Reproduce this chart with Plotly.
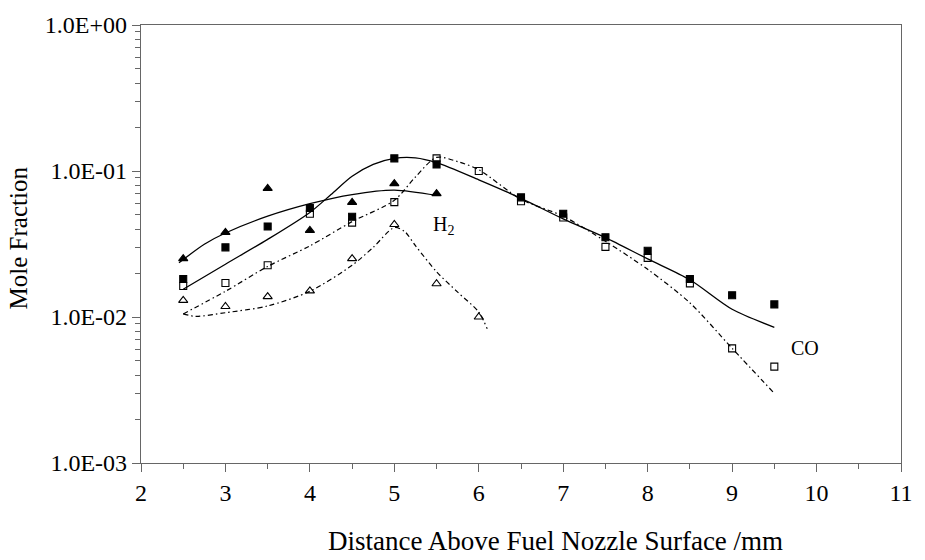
import plotly.graph_objects as go

# ---------------- data ----------------
# measured points
x_pts = [2.5, 3.0, 3.5, 4.0, 4.5, 5.0, 5.5, 6.0, 6.5, 7.0, 7.5, 8.0, 8.5, 9.0, 9.5]
co_filled = [0.0182, 0.030, 0.0417, 0.0558, 0.0486, 0.122, 0.111, None, 0.066, 0.051, 0.0352, 0.0284, 0.0182, 0.0141, 0.0122]
co_open = [0.0163, 0.0171, 0.0226, 0.051, 0.0443, 0.0612, 0.122, 0.100, 0.062, 0.048, 0.0302, 0.0254, 0.0170, 0.0061, 0.00457]

x_h2 = [2.5, 3.0, 3.5, 4.0, 4.5, 5.0, 5.5, 6.0]
h2_filled = [0.0251, 0.038, 0.076, 0.0392, 0.061, 0.082, 0.070, None]
h2_open = [0.013, 0.0118, 0.0138, 0.0151, 0.0251, 0.043, 0.0169, 0.010]

# model curves
x_co_solid = [2.5, 3.0, 3.5, 4.0, 4.25, 4.5, 4.75, 5.0, 5.25, 5.5, 6.0, 6.5, 7.0, 7.5, 8.0, 8.5, 9.0, 9.5]
co_solid = [0.0155, 0.023, 0.034, 0.052, 0.069, 0.092, 0.111, 0.122, 0.123, 0.114, 0.087, 0.065, 0.047, 0.035, 0.025, 0.018, 0.0113, 0.0085]

x_co_dd = [2.5, 3.0, 3.5, 4.0, 4.5, 5.0, 5.25, 5.5, 5.75, 6.0, 6.5, 7.0, 7.5, 8.0, 8.5, 9.0, 9.5]
co_dd = [0.0105, 0.0150, 0.0222, 0.0307, 0.045, 0.063, 0.091, 0.124, 0.116, 0.102, 0.064, 0.049, 0.033, 0.0212, 0.0125, 0.0061, 0.0030]

x_h2_solid = [2.45, 2.75, 3.0, 3.5, 4.0, 4.5, 5.0, 5.5]
h2_solid = [0.0235, 0.0315, 0.0376, 0.049, 0.0597, 0.069, 0.074, 0.068]

x_h2_dd = [2.5, 2.65, 3.0, 3.5, 4.0, 4.5, 4.75, 5.0, 5.12, 5.25, 5.5, 5.75, 6.0, 6.1]
h2_dd = [0.0105, 0.0101, 0.0107, 0.0119, 0.015, 0.0226, 0.030, 0.041, 0.0386, 0.0308, 0.0204, 0.0148, 0.0108, 0.0083]

y_tickvals = [0.001, 0.01, 0.1, 1.0]
y_ticktext = ["1.0E-03", "1.0E-02", "1.0E-01", "1.0E+00"]
x_tickvals = [2, 3, 4, 5, 6, 7, 8, 9, 10, 11]

FONT = "Liberation Serif"
DD = "5px,3px,1.5px,3px"

fig = go.Figure()

def line(x, y, dash, w=1.3):
    fig.add_trace(go.Scatter(x=x, y=y, mode="lines", line=dict(color="black", width=w, dash=dash, shape="spline", smoothing=0.8), hoverinfo="skip", showlegend=False))

line(x_co_solid, co_solid, "solid")
line(x_h2_solid, h2_solid, "solid")
line(x_co_dd, co_dd, DD, 1.2)
line(x_h2_dd, h2_dd, DD, 1.2)

def markers(x, y, symbol, size):
    fig.add_trace(go.Scatter(x=x, y=y, mode="markers", showlegend=False,
                             marker=dict(symbol=symbol, size=size, color="black",
                                         line=dict(color="black", width=1.1))))

markers(x_pts, co_open, "square-open", 7)
markers(x_pts, co_filled, "square", 7)
markers(x_h2, h2_open, "triangle-up-open", 8)
markers(x_h2, h2_filled, "triangle-up", 8)

fig.add_annotation(x=5.43, y=-1.37, xref="x", yref="y", text="H<sub>2</sub>", showarrow=False,
                   font=dict(family=FONT, size=20, color="black"), xanchor="left", yanchor="middle")
fig.add_annotation(x=9.67, y=-2.21, xref="x", yref="y", text="CO", showarrow=False,
                   font=dict(family=FONT, size=20, color="black"), xanchor="left", yanchor="middle")

fig.add_annotation(x=0.546, y=-0.178, xref="paper", yref="paper", text="Distance Above Fuel Nozzle Surface /mm",
                   showarrow=False, font=dict(family=FONT, size=27, color="black"), xanchor="center", yanchor="middle")
fig.add_annotation(x=-0.1617, y=0.513, xref="paper", yref="paper", text="Mole Fraction", textangle=-90,
                   showarrow=False, font=dict(family=FONT, size=25, color="black"), xanchor="center", yanchor="middle")

axis_line = "#666666"
fig.update_layout(
    width=925, height=560,
    margin=dict(l=141, r=17, t=13, b=97),
    paper_bgcolor="white", plot_bgcolor="white",
    font=dict(family=FONT, size=24, color="black"),
    xaxis=dict(range=[2, 11], tickvals=x_tickvals, ticks="outside", ticklen=8, tickcolor=axis_line,
               showline=True, linecolor=axis_line, linewidth=1.3, mirror=True, showgrid=False, zeroline=False,
               tickfont=dict(family=FONT, size=24, color="black"),
               minor=dict(dtick=0.5, ticks="outside", ticklen=5, tickcolor=axis_line, showgrid=False)),
    yaxis=dict(type="log", range=[-3, 0], tickvals=y_tickvals, ticktext=y_ticktext, ticks="outside", ticklen=8,
               tickcolor=axis_line, showline=True, linecolor=axis_line, linewidth=1.3, mirror=True,
               showgrid=False, zeroline=False, tickfont=dict(family=FONT, size=24, color="black"),
               minor=dict(dtick="D1", ticks="outside", ticklen=5, tickcolor=axis_line, showgrid=False)),
)

fig.write_html("out.html")
